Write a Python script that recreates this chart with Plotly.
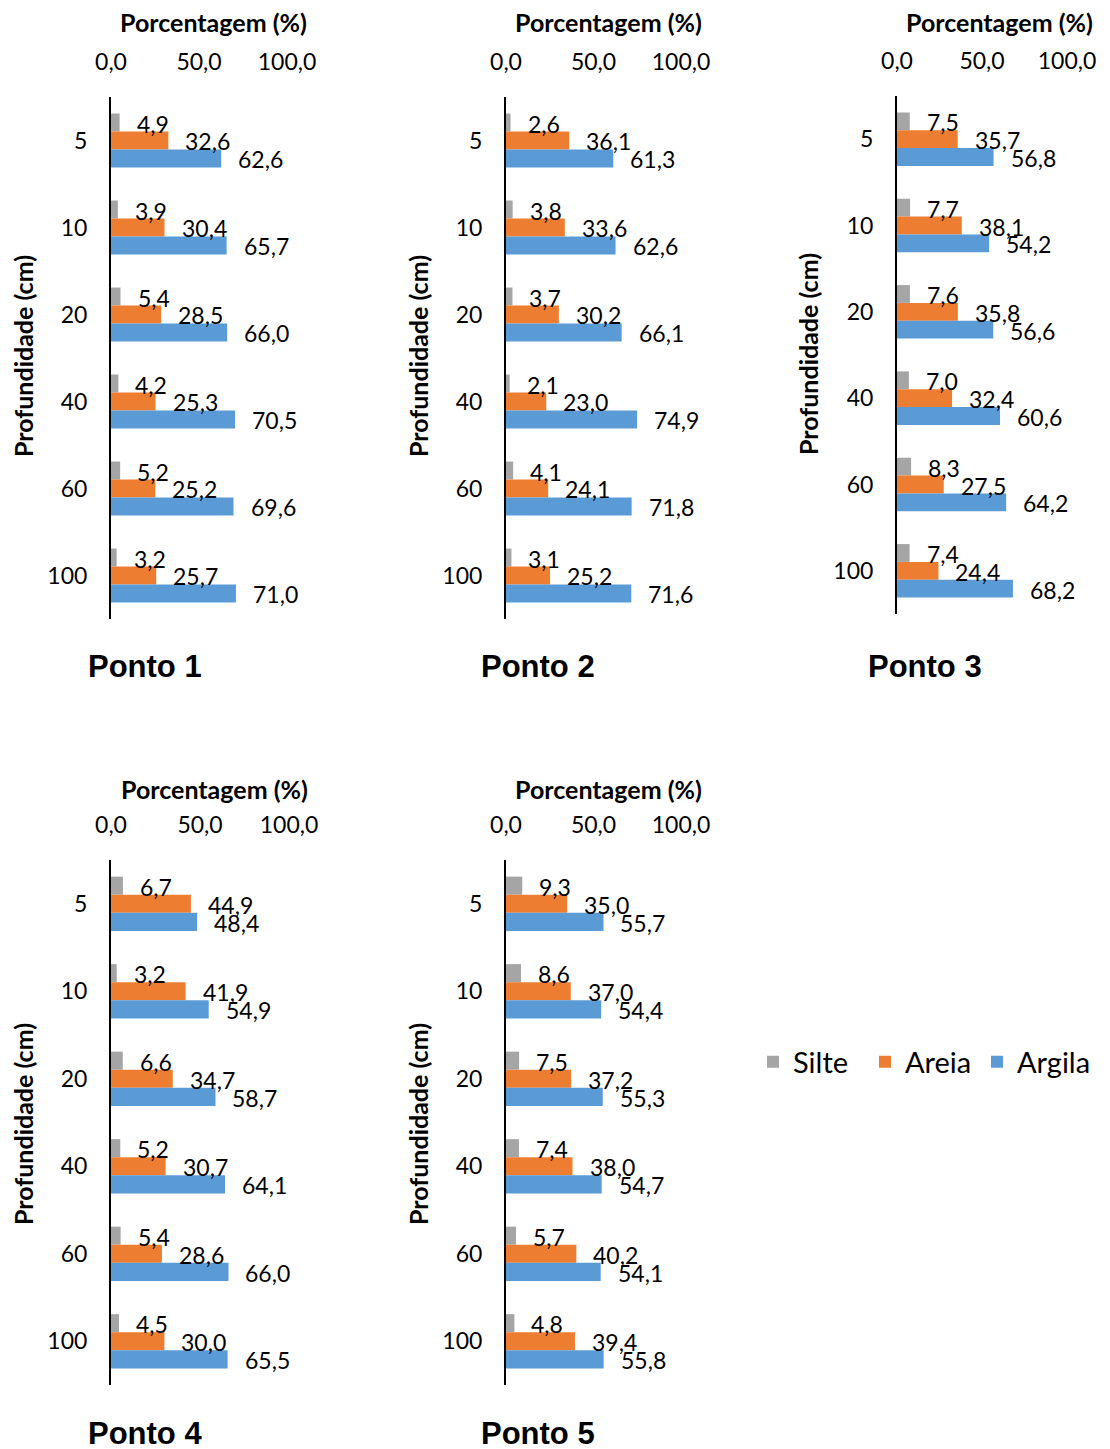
import plotly.graph_objects as go

W, H = 1110, 1449
OFF = 8  # page body margin offset in the browser

depths = ["5", "10", "20", "40", "60", "100"]
series_names = ["Silte", "Areia", "Argila"]
colors = ["#A5A5A5", "#ED7D31", "#5B9BD5"]

p1_silte = [4.9, 3.9, 5.4, 4.2, 5.2, 3.2]
p1_areia = [32.6, 30.4, 28.5, 25.3, 25.2, 25.7]
p1_argila = [62.6, 65.7, 66.0, 70.5, 69.6, 71.0]

p2_silte = [2.6, 3.8, 3.7, 2.1, 4.1, 3.1]
p2_areia = [36.1, 33.6, 30.2, 23.0, 24.1, 25.2]
p2_argila = [61.3, 62.6, 66.1, 74.9, 71.8, 71.6]

p3_silte = [7.5, 7.7, 7.6, 7.0, 8.3, 7.4]
p3_areia = [35.7, 38.1, 35.8, 32.4, 27.5, 24.4]
p3_argila = [56.8, 54.2, 56.6, 60.6, 64.2, 68.2]

p4_silte = [6.7, 3.2, 6.6, 5.2, 5.4, 4.5]
p4_areia = [44.9, 41.9, 34.7, 30.7, 28.6, 30.0]
p4_argila = [48.4, 54.9, 58.7, 64.1, 66.0, 65.5]

p5_silte = [9.3, 8.6, 7.5, 7.4, 5.7, 4.8]
p5_areia = [35.0, 37.0, 37.2, 38.0, 40.2, 39.4]
p5_argila = [55.7, 54.4, 55.3, 54.7, 54.1, 55.8]

tick_vals = [0, 50, 100]
tick_text = ["0,0", "50,0", "100,0"]

pontos = [
    ("Ponto 1", [p1_silte, p1_areia, p1_argila]),
    ("Ponto 2", [p2_silte, p2_areia, p2_argila]),
    ("Ponto 3", [p3_silte, p3_areia, p3_argila]),
    ("Ponto 4", [p4_silte, p4_areia, p4_argila]),
    ("Ponto 5", [p5_silte, p5_areia, p5_argila]),
]

# layout geometry in screen pixels
geom = [
    dict(left=111, k=1.76, top=97, bottom=619, title_x=213, title_y=22, ylab_x=23, ylab_y=356, pt_x=145, pt_y=666),
    dict(left=506, k=1.75, top=97, bottom=619, title_x=608, title_y=22, ylab_x=418, ylab_y=356, pt_x=538, pt_y=666),
    dict(left=897, k=1.70, top=96, bottom=614, title_x=999, title_y=22, ylab_x=808, ylab_y=354, pt_x=925, pt_y=666),
    dict(left=111, k=1.78, top=860, bottom=1385, title_x=214, title_y=789, ylab_x=23, ylab_y=1124, pt_x=145, pt_y=1433),
    dict(left=506, k=1.75, top=860, bottom=1385, title_x=608, title_y=789, ylab_x=418, ylab_y=1124, pt_x=538, pt_y=1433),
]

XMAX = 100.5
BARGAP = 0.38
FONT = "Lato"

fig = go.Figure()
annotations = []
layout_axes = {}

def px(x):
    return (x - OFF) / W

def py(y):
    return 1 - (y - OFF) / H

for i, ((name, vals), g) in enumerate(zip(pontos, geom)):
    n = i + 1
    xa = "x" if n == 1 else f"x{n}"
    ya = "y" if n == 1 else f"y{n}"
    spacing = (g["bottom"] - g["top"]) / len(depths)
    bar_px = (1 - BARGAP) * spacing / 3
    for s, (sname, col, v) in enumerate(zip(series_names, colors, vals)):
        fig.add_trace(go.Bar(
            x=v, y=depths, orientation="h", name=sname,
            marker=dict(color=col, line=dict(width=0)),
            xaxis=xa, yaxis=ya, showlegend=(i == 0),
            legendgroup=sname,
        ))
        yshift = (1 - s) * bar_px - 1
        for j, val in enumerate(v):
            annotations.append(dict(
                x=val, y=j, xref=xa, yref=ya, text=f"{val:.1f}".replace(".", ","),
                showarrow=False, xanchor="left", yanchor="middle",
                xshift=15, yshift=yshift,
                font=dict(family=FONT, size=23, color="#000000"),
            ))
    right = g["left"] + g["k"] * XMAX
    layout_axes["xaxis" if n == 1 else f"xaxis{n}"] = dict(
        domain=[px(g["left"]), px(right)], range=[0, XMAX], side="top",
        anchor=ya, tickvals=tick_vals, ticktext=tick_text,
        showgrid=False, zeroline=False, showline=False, automargin=False,
        ticks="outside", ticklen=17, tickcolor="rgba(0,0,0,0)",
        tickfont=dict(family=FONT, size=23, color="#000000"),
    )
    layout_axes["yaxis" if n == 1 else f"yaxis{n}"] = dict(
        domain=[py(g["bottom"]), py(g["top"])], type="category",
        categoryorder="array", categoryarray=depths,
        range=[len(depths) - 0.5, -0.5], autorange=False,
        anchor=xa, showgrid=False, zeroline=False, showline=True, automargin=False,
        linecolor="#000000", linewidth=2,
        ticks="outside", ticklen=17, tickcolor="rgba(0,0,0,0)",
        tickfont=dict(family=FONT, size=23, color="#000000"),
    )
    annotations.append(dict(
        x=px(g["title_x"]), y=py(g["title_y"]), xref="paper", yref="paper",
        text="<b>Porcentagem (%)</b>", showarrow=False,
        xanchor="center", yanchor="middle",
        font=dict(family=FONT, size=25, color="#000000"),
    ))
    annotations.append(dict(
        x=px(g["ylab_x"]), y=py(g["ylab_y"]), xref="paper", yref="paper",
        text="<b>Profundidade (cm)</b>", showarrow=False, textangle=-90,
        xanchor="center", yanchor="middle",
        font=dict(family=FONT, size=25, color="#000000"),
    ))
    annotations.append(dict(
        x=px(g["pt_x"]), y=py(g["pt_y"]), xref="paper", yref="paper",
        text=f"<b>{name}</b>", showarrow=False,
        xanchor="center", yanchor="middle",
        font=dict(family="Liberation Sans", size=31, color="#000000"),
    ))

fig.update_layout(
    width=W, height=H,
    margin=dict(l=0, r=0, t=0, b=0, autoexpand=False),
    paper_bgcolor="white", plot_bgcolor="white",
    barmode="group", bargap=BARGAP, bargroupgap=0,
    annotations=annotations,
    legend=dict(
        orientation="h", x=px(753), y=py(1062), xanchor="left", yanchor="middle",
        font=dict(family=FONT, size=29, color="#000000"),
        bgcolor="rgba(0,0,0,0)", traceorder="normal",
        entrywidth=67, entrywidthmode="pixels",
    ),
    **layout_axes,
)

fig.write_html("out.html")
